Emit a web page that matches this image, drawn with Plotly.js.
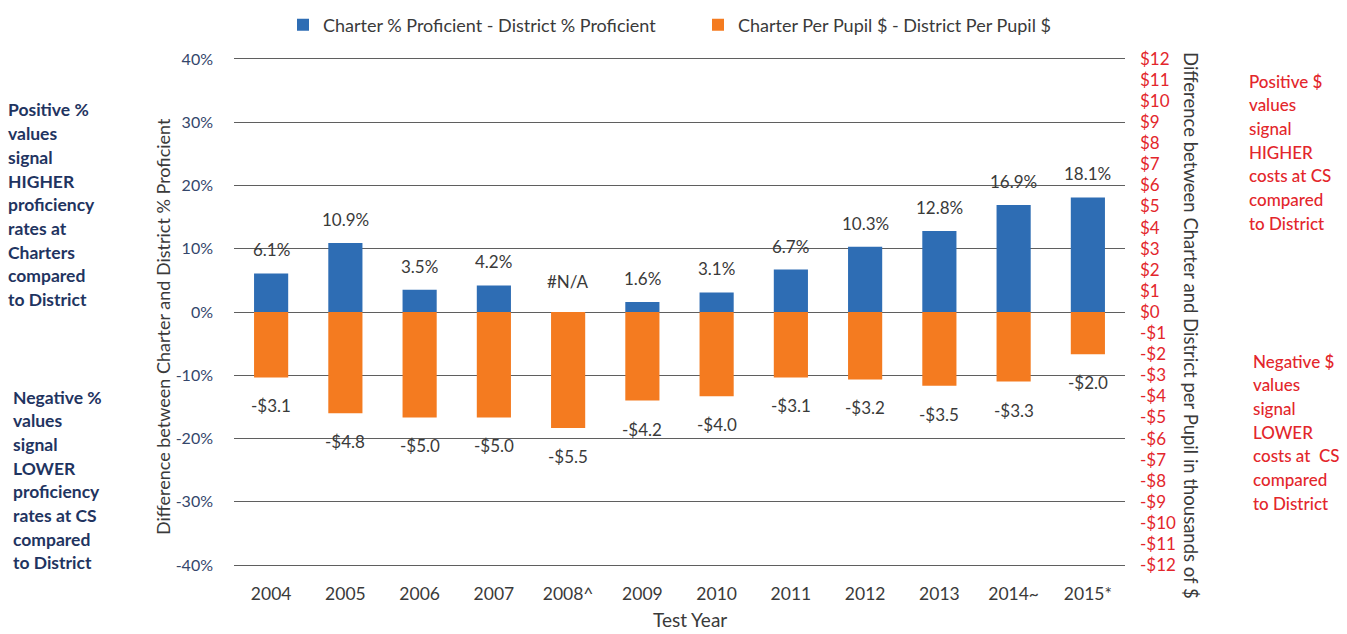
<!DOCTYPE html>
<html>
<head>
<meta charset="utf-8">
<script src="https://cdn.plot.ly/plotly-3.0.1.min.js"></script>
<style>html,body{margin:0;padding:0;background:#fff;}#chart{width:1347px;height:634px;}</style>
</head>
<body>
<div id="chart"></div>
<script>
// ---- data ----
const years = ["2004","2005","2006","2007","2008^","2009","2010","2011","2012","2013","2014~","2015*"];
const proficiencyDiff = [6.1, 10.9, 3.5, 4.2, null, 1.6, 3.1, 6.7, 10.3, 12.8, 16.9, 18.1];
const perPupilDiff = [-3.1, -4.8, -5.0, -5.0, -5.5, -4.2, -4.0, -3.1, -3.2, -3.5, -3.3, -2.0];
const proficiencyLabels = ["6.1%","10.9%","3.5%","4.2%","#N/A","1.6%","3.1%","6.7%","10.3%","12.8%","16.9%","18.1%"];
const perPupilLabels = ["-$3.1","-$4.8","-$5.0","-$5.0","-$5.5","-$4.2","-$4.0","-$3.1","-$3.2","-$3.5","-$3.3","-$2.0"];
const leftTickVals = [-40,-30,-20,-10,0,10,20,30,40];
const leftTickText = ["-40%","-30%","-20%","-10%","0%","10%","20%","30%","40%"];
const rightTickVals = [12,11,10,9,8,7,6,5,4,3,2,1,0,-1,-2,-3,-4,-5,-6,-7,-8,-9,-10,-11,-12];
const rightTickText = ["$12","$11","$10","$9","$8","$7","$6","$5","$4","$3","$2","$1","$0","-$1","-$2","-$3","-$4","-$5","-$6","-$7","-$8","-$9","-$10","-$11","-$12"];
const seriesNames = ["Charter % Proficient - District % Proficient","Charter Per Pupil $ - District Per Pupil $"];
const leftNoteTop = ["Positive %","values","signal","HIGHER","proficiency","rates at","Charters","compared","to District"];
const leftNoteBottom = ["Negative %","values","signal","LOWER","proficiency","rates at CS","compared","to District"];
const rightNoteTop = ["Positive $","values","signal","HIGHER","costs at CS","compared","to District"];
const rightNoteBottom = ["Negative $","values","signal","LOWER","costs at  CS","compared","to District"];

// ---- layout geometry ----
const W = 1347, H = 634;
const L = 234, R = 1125, T = 57, B = 567;
const px = x => (x - L) / (R - L);
const py = y => (B - y) / (B - T);

const BLUE = "#2E6DB4", ORANGE = "#F47B20", NAVY = "#1F3461", RED = "#E3262B", TXT = "#3A3A3A";
const FONT = "Lato, 'Open Sans', sans-serif";

const traces = [
  {type:"bar", x:years, y:proficiencyDiff, name:seriesNames[0], marker:{color:BLUE}, width:0.46, yaxis:"y", legend:"legend", hoverinfo:"x+y"},
  {type:"bar", x:years, y:perPupilDiff, name:seriesNames[1], marker:{color:ORANGE}, width:0.46, yaxis:"y2", legend:"legend2", hoverinfo:"x+y"}
];

const annotations = [];
years.forEach((yr, i) => {
  const v = proficiencyDiff[i];
  annotations.push({x:i, y:(v === null ? 0 : v), xref:"x", yref:"y", text:proficiencyLabels[i],
    showarrow:false, yanchor:"bottom", yshift:(v === null ? 18 : 11), font:{size:17, color:TXT, family:FONT}});
  annotations.push({x:i, y:perPupilDiff[i], xref:"x", yref:"y2", text:perPupilLabels[i],
    showarrow:false, yanchor:"top", yshift:-16, font:{size:17, color:TXT, family:FONT}});
});
function noteBlock(lines, xPx, yPx, color, weight, size) {
  lines.forEach((t, k) => {
    annotations.push({xref:"paper", yref:"paper", x:px(xPx), y:py(yPx + k*23.7), text:t, showarrow:false,
      xanchor:"left", yanchor:"middle", font:{size:size, color:color, family:FONT, weight:weight}});
  });
}
noteBlock(leftNoteTop, 6, 110, NAVY, 700, 17.5);
noteBlock(leftNoteBottom, 11, 397, NAVY, 700, 17.5);
noteBlock(rightNoteTop, 1247, 81, RED, 500, 17);
noteBlock(rightNoteBottom, 1251, 361, RED, 500, 17);
// axis titles
annotations.push({xref:"paper", yref:"paper", x:px(163), y:py(327), text:"Difference between Charter and District % Proficient",
  textangle:-90, showarrow:false, xanchor:"center", yanchor:"middle", font:{size:18, color:TXT, family:FONT}});
annotations.push({xref:"paper", yref:"paper", x:px(1191), y:py(325), text:"Difference between Charter and District per Pupil in thousands of $",
  textangle:90, showarrow:false, xanchor:"center", yanchor:"middle", font:{size:18.5, color:TXT, family:FONT}});
annotations.push({xref:"paper", yref:"paper", x:px(690), y:py(619), text:"Test Year",
  showarrow:false, xanchor:"center", yanchor:"middle", font:{size:19, color:TXT, family:FONT}});

const legendBase = {orientation:"h", xanchor:"left", yanchor:"middle", y:py(25), bgcolor:"rgba(0,0,0,0)",
  font:{size:18, color:TXT, family:FONT}, itemwidth:30};

const layout = {
  width: W, height: H,
  margin: {l:L, r:W-R, t:T, b:H-B, pad:0, autoexpand:false},
  paper_bgcolor:"#fff", plot_bgcolor:"#fff",
  font:{family:FONT, color:TXT, size:15},
  barmode:"overlay",
  showlegend:true,
  legend: Object.assign({}, legendBase, {x:px(283)}),
  legend2: Object.assign({}, legendBase, {x:px(698)}),
  xaxis:{type:"category", categoryorder:"array", categoryarray:years, range:[-0.5, years.length - 0.5],
    showgrid:false, zeroline:false, showline:false, ticks:"",
    tickfont:{size:17.5, color:TXT, family:FONT}, ticklabelstandoff:14},
  yaxis:{range:[-40.3,40.3], tickvals:leftTickVals, ticktext:leftTickText, showgrid:true, gridcolor:"#5f5f5f", gridwidth:1.3,
    zeroline:false, showline:false, ticks:"", tickfont:{size:16, color:"#34466B", family:FONT}, ticklabelstandoff:20},
  yaxis2:{range:[-12.09,12.09], overlaying:"y", side:"right", tickvals:rightTickVals, ticktext:rightTickText, showgrid:false,
    zeroline:false, showline:false, ticks:"", tickfont:{size:17, color:RED, family:FONT}, ticklabelstandoff:14},
  annotations: annotations
};

Plotly.newPlot("chart", traces, layout, {displayModeBar:false, responsive:false});
</script>
</body>
</html>
